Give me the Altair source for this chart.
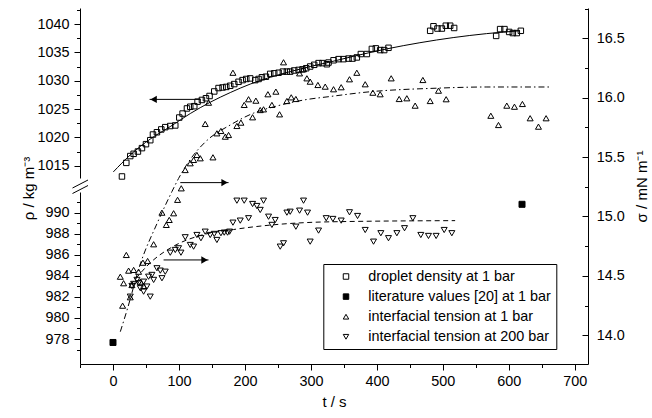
import altair as alt
import pandas as pd

# ---------------- data ----------------
series_names = ["droplet density at 1 bar", "literature values [20] at 1 bar",
                "interfacial tension at 1 bar", "interfacial tension at 200 bar"]

# droplet density (open squares), upper density axis
sq_t = [13.6, 20.2, 26.2, 31.3, 37.8, 43.9, 50.0, 56.5, 60.6, 66.6,
        73.2, 79.2, 86.8, 94.4, 100.5, 105.5, 112.1, 117.1, 123.2, 128.2,
        134.8, 140.9, 146.4, 153.5, 160.0, 166.1, 171.7, 177.7, 183.8, 190.3,
        196.4, 202.0, 208.0, 215.6, 220.7, 225.7, 231.8, 238.3, 244.4, 251.0,
        257.5, 263.6, 268.6, 274.7, 281.3, 287.3, 292.9, 298.9, 305.0, 311.6,
        317.6, 324.2, 326.7, 334.3, 341.9, 349.4, 357.0, 363.1, 369.6, 375.7,
        384.8, 392.4, 398.4, 405.0, 411.1, 417.6, 480.8, 485.8, 491.8, 498.5,
        504.5, 511.1, 517.1, 580.8, 586.8, 593.4, 600.5, 606.1, 612.1, 618.2]
sq_rho = [1013.1, 1015.5, 1016.7, 1017.1, 1017.5, 1018.1, 1018.8, 1019.5, 1020.5, 1020.9,
          1021.4, 1021.8, 1022.0, 1022.1, 1023.5, 1024.2, 1025.1, 1025.4, 1025.5, 1026.3,
          1026.6, 1026.9, 1027.3, 1028.1, 1028.7, 1028.8, 1028.9, 1029.1, 1029.4, 1029.8,
          1030.1, 1030.3, 1030.4, 1030.1, 1030.3, 1030.6, 1030.7, 1031.2, 1031.3, 1031.4,
          1031.6, 1031.6, 1031.6, 1031.8, 1031.9, 1032.0, 1032.2, 1032.5, 1032.8, 1033.1,
          1033.1, 1032.9, 1033.2, 1033.6, 1033.8, 1033.8, 1033.9, 1033.9, 1034.1, 1034.7,
          1034.7, 1035.6, 1035.7, 1035.4, 1035.4, 1035.8, 1038.8, 1039.6, 1039.2, 1039.2,
          1039.7, 1039.7, 1039.3, 1037.9, 1039.1, 1039.1, 1038.6, 1038.4, 1038.4, 1038.8]

# solid fit curve through the densities
fit_t = [0.5, 26.2, 56.5, 86.8, 117.1, 147.4, 177.7, 208.0, 238.3, 268.6,
         298.9, 329.2, 364.6, 414.6, 465.2, 515.6, 566.1, 616.6]
fit_rho = [1013.9, 1016.9, 1019.7, 1021.9, 1024.2, 1026.2, 1027.9, 1029.4, 1030.6, 1031.6,
           1032.5, 1033.3, 1034.3, 1035.6, 1036.7, 1037.6, 1038.3, 1038.8]

# literature values (filled squares), lower density axis
lit_t = [0.0, 620.0]
lit_rho = [977.67, 990.8]

# interfacial tension at 1 bar (triangles up), sigma axis
up_t = [258.5, 181.8, 288.8, 293.9, 298.9, 310.6, 321.7, 282.8, 144.9, 139.8,
        205.5, 216.6, 198.9, 234.8, 246.9, 240.9, 223.2, 228.2, 252.5, 211.6,
        263.6, 270.2, 277.2, 187.8, 193.9, 157.5, 163.6, 170.2, 175.2, 151.5,
        127.2, 132.3, 122.2, 117.1, 109.5, 103.5, 97.9, 74.2, 91.9, 85.3,
        80.8, 61.6, 20.2, 52.5, 45.4, 23.7, 31.3, 38.8, 11.1, 16.1,
        28.7, 26.2, 14.6, 41.4, 46.4, 334.3, 345.9, 358.5, 369.6, 382.3,
        393.9, 405.0, 421.7, 433.8, 445.4, 458.0, 469.7, 480.8, 493.4, 505.0,
        572.7, 584.3, 596.9, 608.5, 620.6, 632.3, 644.9, 656.5]
up_sigma = [16.298, 16.21, 16.24, 16.163, 16.135, 16.107, 16.093, 16.205, 15.958, 15.779,
            15.987, 15.975, 15.939, 16.029, 16.051, 15.939, 15.896, 15.902, 15.86, 15.835,
            15.972, 16.003, 15.989, 15.762, 15.79, 15.70, 15.72, 15.672, 15.686, 15.498,
            15.518, 15.49, 15.476, 15.448, 15.391, 15.237, 15.14, 15.032, 15.027, 14.971,
            14.929, 14.766, 14.676, 14.625, 14.611, 14.544, 14.55, 14.535, 14.493, 14.438,
            14.423, 14.32, 14.249, 14.451, 14.415, 16.071, 16.088, 16.155, 16.21, 16.113,
            16.042, 16.029, 16.163, 15.989, 15.995, 15.933, 16.149, 15.972, 16.059, 15.987,
            15.848, 15.77, 15.933, 15.924, 15.947, 15.827, 15.756, 15.827]

# dash-dot curve (1 bar)
dd_t = [11.1, 21.2, 41.4, 66.7, 89.4, 99.4, 117.1, 142.4, 177.7, 213.0,
        248.5, 288.8, 329.2, 389.8, 490.9, 566.7, 662.6]
dd_sigma = [14.03, 14.21, 14.60, 14.94, 15.21, 15.32, 15.48, 15.64, 15.77, 15.87,
            15.93, 15.98, 16.01, 16.05, 16.08, 16.09, 16.09]

# interfacial tension at 200 bar (triangles down)
dn_t = [187.8, 198.9, 211.6, 218.1, 228.2, 223.2, 235.8, 245.9, 240.9, 205.5,
        192.9, 181.8, 268.6, 263.6, 282.8, 288.8, 294.9, 277.2, 311.6, 298.9,
        323.2, 253.5, 258.5, 109.5, 127.2, 133.3, 139.8, 147.4, 153.5, 157.5,
        163.6, 168.6, 173.7, 176.7, 117.1, 122.2, 86.8, 94.4, 99.4, 103.0,
        79.2, 71.7, 66.6, 59.0, 53.9, 61.6, 46.4, 38.8, 31.3, 28.7,
        41.4, 46.4, 56.5, 36.3, 51.4, 26.2, 74.2, 333.3, 345.9, 358.5,
        370.7, 382.3, 394.9, 406.0, 417.6, 430.3, 441.9, 454.5, 466.6, 478.2,
        489.8, 502.0, 513.6]
dn_sigma = [15.133, 15.133, 15.105, 15.088, 15.133, 15.055, 14.998, 14.97, 14.929, 14.985,
            14.965, 14.948, 15.04, 15.032, 15.049, 15.133, 15.032, 14.914, 14.881, 14.788,
            14.985, 14.746, 14.774, 14.825, 14.844, 14.817, 14.872, 14.844, 14.853, 14.802,
            14.859, 14.864, 14.864, 14.872, 14.76, 14.746, 14.695, 14.718, 14.732, 14.695,
            14.535, 14.544, 14.564, 14.508, 14.493, 14.466, 14.451, 14.438, 14.432, 14.415,
            14.396, 14.367, 14.325, 14.466, 14.41, 14.325, 14.48, 14.979, 14.965, 15.035,
            15.004, 14.886, 14.788, 14.859, 14.817, 14.859, 14.901, 14.985, 14.844, 14.836,
            14.836, 14.886, 14.859]

# dashed curve (200 bar)
da_t = [26.2, 56.5, 91.9, 132.3, 182.8, 243.4, 329.2, 518.6]
da_sigma = [14.42, 14.61, 14.75, 14.84, 14.89, 14.93, 14.955, 14.965]

# arrows (tail t, head t, level)
rho_arrow_tail = [132.3]
rho_arrow_head = [55.5]
rho_arrow_level = [1026.7]
sig_arrow_tail = [102.0, 76.7]
sig_arrow_head = [175.2, 144.8]
sig_arrow_level = [15.285, 14.634]

# axis ticks
x_ticks = [-50, 0, 50, 100, 150, 200, 250, 300, 350, 400, 450, 500, 550, 600, 650, 700]
rho_up_ticks = [1015, 1017.5, 1020, 1022.5, 1025, 1027.5, 1030, 1032.5, 1035, 1037.5, 1040, 1042.5]
rho_lo_ticks = [977, 978, 979, 980, 981, 982, 983, 984, 985, 986, 987, 988, 989, 990, 991]
sig_major = [14.0, 14.5, 15.0, 15.5, 16.0, 16.5]
sig_minor = [14.25, 14.75, 15.25, 15.75, 16.25, 16.75]

# ---------------- frames ----------------
sq_df = pd.DataFrame({"t": sq_t, "rho": sq_rho, "series": series_names[0]})
fit_df = pd.DataFrame({"t": fit_t, "rho": fit_rho})
lit_df = pd.DataFrame({"t": lit_t, "rho": lit_rho, "series": series_names[1]})
up_df = pd.DataFrame({"t": up_t, "sigma": up_sigma, "series": series_names[2]})
dd_df = pd.DataFrame({"t": dd_t, "sigma": dd_sigma})
dn_df = pd.DataFrame({"t": dn_t, "sigma": dn_sigma, "series": series_names[3]})
da_df = pd.DataFrame({"t": da_t, "sigma": da_sigma})
rarr_df = pd.DataFrame({"t": rho_arrow_tail, "t2": rho_arrow_head, "rho": rho_arrow_level})
sarr_df = pd.DataFrame({"t": sig_arrow_tail, "t2": sig_arrow_head, "sigma": sig_arrow_level})
one = pd.DataFrame({"k": [0]})

FONT = "Liberation Sans"

# ---------------- scales / axes ----------------
x_scale = alt.Scale(domain=[-50, 720], nice=False, zero=False)
x_axis = alt.Axis(orient="bottom", values=x_ticks, format="d",
                  labelExpr="(datum.value >= 0 && datum.value % 100 == 0) ? datum.label : ''",
                  tickSize={"condition": {"test": "datum.value % 100 != 0", "value": 3.5}, "value": 6},
                  labelPadding=4, labelOverlap=False, title="t / s", titlePadding=7)


def X(field):
    return alt.X(f"{field}:Q", scale=x_scale, axis=x_axis)


up_scale = alt.Scale(domain=[1012.83, 1042.823], range=[170, 0], nice=False, zero=False)
up_axis = alt.Axis(orient="left", values=rho_up_ticks, format=".0f",
                   labelExpr="datum.value % 5 == 0 ? datum.label : ''",
                   tickSize={"condition": {"test": "datum.value % 5 != 0", "value": 3.5}, "value": 6},
                   labelPadding=5, labelOverlap=False,
                   title="ρ / kg m⁻³", titleX=-52, titleY=180, titleAngle=270,
                   titleAlign="center", titleBaseline="middle")
Y_up = alt.Y("rho:Q", scale=up_scale, axis=up_axis)

lo_scale = alt.Scale(domain=[975.625, 991.97], range=[356, 184], nice=False, zero=False)
lo_axis = alt.Axis(orient="left", values=rho_lo_ticks, format="d",
                   labelExpr="datum.value % 2 == 0 ? datum.label : ''",
                   tickSize={"condition": {"test": "datum.value % 2 != 0", "value": 3.5}, "value": 6},
                   labelPadding=5, labelOverlap=False, title="")
Y_lo = alt.Y("rho:Q", scale=lo_scale, axis=lo_axis)

sig_dom = [13.758, 16.755]
sigA_axis = alt.Axis(orient="right", offset=-6, values=sig_major, format=".1f", tickSize=6,
                     domain=False, labelPadding=8.3, labelOverlap=False,
                     title="σ / mN m⁻¹", titleX=59, titleY=178, titleAngle=270,
                     titleAlign="center", titleBaseline="middle")
sigB_axis = alt.Axis(orient="right", offset=-3.5, values=sig_minor, tickSize=3.5,
                     labels=False, domain=False, title="")
sigC_axis = alt.Axis(orient="right", offset=0, ticks=False, labels=False, domain=True, title="")

YA = alt.Y("sigma:Q", scale=alt.Scale(domain=sig_dom, nice=False, zero=False), axis=sigA_axis)
YB = alt.Y("sigma:Q", scale=alt.Scale(domain=sig_dom, nice=False, zero=False), axis=sigB_axis)
YC = alt.Y("sigma:Q", scale=alt.Scale(domain=sig_dom, nice=False, zero=False), axis=sigC_axis)

legend = alt.Legend(orient="none", legendX=243.3, legendY=256, padding=5.3, rowPadding=5.1,
                    symbolSize=30, symbolOffset=10.2, labelOffset=15.1,
                    strokeColor="black", fillColor="white",
                    labelFont=FONT, labelFontSize=14.4, labelColor="black",
                    labelExpr="datum.label + '\u2002\u2009'",
                    symbolStrokeWidth=1, labelLimit=400)
sdom = alt.Scale(domain=series_names)
fill_enc = alt.Fill("series:N", title=None, legend=legend,
                    scale=alt.Scale(domain=series_names,
                                    range=["transparent", "black", "transparent", "transparent"]))
shape_enc = alt.Shape("series:N", title=None, legend=legend,
                      scale=alt.Scale(domain=series_names,
                                      range=["square", "square", "triangle-up", "triangle-down"]))
stroke_enc = alt.Stroke("series:N", title=None, legend=legend,
                        scale=alt.Scale(domain=series_names,
                                        range=["black", "black", "black", "black"]))


def pts(df, y, size):
    return alt.Chart(df).mark_point(filled=True, strokeWidth=1, size=size,
                                    opacity=1).encode(x=X("t"), y=y, fill=fill_enc,
                                                      shape=shape_enc, stroke=stroke_enc)


# upper density layer
upper = alt.layer(
    alt.Chart(fit_df).mark_line(color="black", strokeWidth=1, interpolate="monotone").encode(
        x=X("t"), y=Y_up),
    pts(sq_df, Y_up, 30),
    alt.Chart(rarr_df).mark_rule(color="black", strokeWidth=1).encode(
        x=X("t"), x2=alt.X2("t2"), y=Y_up),
    alt.Chart(rarr_df).mark_point(shape="triangle-left", filled=True, color="black", size=55,
                                  opacity=1, xOffset=4).encode(x=X("t2"), y=Y_up),
)

lower = pts(lit_df, Y_lo, 36)

sigA = alt.layer(
    alt.Chart(dd_df).mark_line(color="black", strokeWidth=1, strokeDash=[6, 3, 1.5, 3],
                               interpolate="monotone").encode(x=X("t"), y=YA),
    pts(up_df, YA, 36),
)
sigB = alt.layer(
    alt.Chart(da_df).mark_line(color="black", strokeWidth=1, strokeDash=[5, 3.5],
                               interpolate="monotone").encode(x=X("t"), y=YB),
    pts(dn_df, YB, 36),
)
sigC = alt.layer(
    alt.Chart(sarr_df).mark_rule(color="black", strokeWidth=1).encode(
        x=X("t"), x2=alt.X2("t2"), y=YC),
    alt.Chart(sarr_df).mark_point(shape="triangle-right", filled=True, color="black", size=55,
                                  opacity=1, xOffset=-4).encode(x=X("t2"), y=YC),
)

# axis break marks on the left axis
brk1 = alt.Chart(one).mark_rule(color="black", strokeWidth=1).encode(
    x=alt.value(-7.5), x2=alt.value(8), y=alt.value(180), y2=alt.value(172))
brk2 = alt.Chart(one).mark_rule(color="black", strokeWidth=1).encode(
    x=alt.value(-7.5), x2=alt.value(8), y=alt.value(185.5), y2=alt.value(177.5))

chart = alt.layer(upper, lower, sigA, sigB, sigC, brk1, brk2).resolve_scale(
    y="independent"
).properties(
    width=508, height=356,
    padding={"left": 80, "top": 8, "right": 64, "bottom": 54},
    autosize=alt.AutoSizeParams(type="none"),
    background="white",
).configure_view(strokeWidth=0).configure_axis(
    labelFont=FONT, labelFontSize=14.4, labelColor="black",
    titleFont=FONT, titleFontSize=15, titleFontWeight="normal", titleColor="black",
    tickColor="black", domainColor="black", grid=False, domainWidth=1, tickWidth=1,
)

chart.save("out.html", embed_options={"renderer": "svg", "actions": False})
